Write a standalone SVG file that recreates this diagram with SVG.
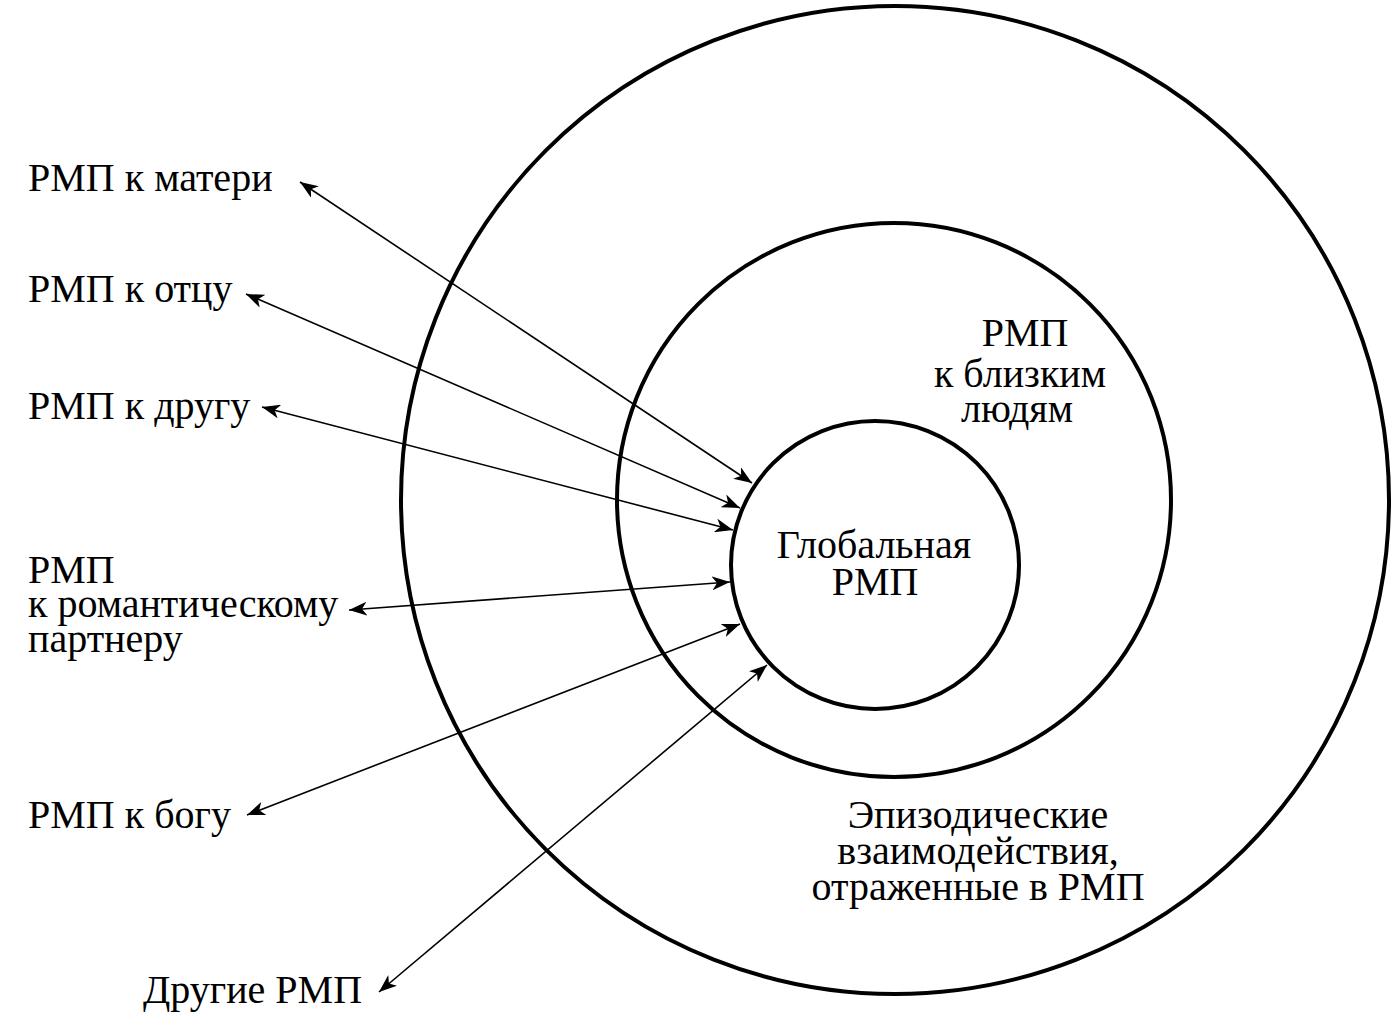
<svg xmlns="http://www.w3.org/2000/svg" width="1399" height="1014" viewBox="0 0 1399 1014">
<style>
.c{fill:none;stroke:#000;stroke-width:4}
.a{fill:none;stroke:#000;stroke-width:1.6;marker-start:url(#ah);marker-end:url(#ah)}
text{font-family:"Liberation Serif","Times New Roman",serif;font-size:40px;fill:#000}
.m{text-anchor:middle}
</style>
<defs>
<marker id="ah" markerUnits="userSpaceOnUse" markerWidth="20" markerHeight="14" refX="18" refY="7" orient="auto-start-reverse" viewBox="0 0 20 14">
<path d="M18,7 L0,0 L5,7 L0,14 z" fill="#000"/>
</marker>
</defs>
<rect width="1399" height="1014" fill="#fff"/>
<g id="outer"><circle class="c" cx="895" cy="500" r="494"/>
<text class="m" x="978" y="828">Эпизодические</text>
<text class="m" x="978" y="864">взаимодействия,</text>
<text class="m" x="978" y="900">отраженные в РМП</text></g>
<g id="middle"><circle class="c" cx="894" cy="500" r="277"/>
<text class="m" x="1025" y="346">РМП</text>
<text class="m" x="1020" y="387">к близким</text>
<text class="m" x="1017" y="422">людям</text></g>
<g id="inner"><circle class="c" cx="875" cy="565" r="144"/>
<text class="m" x="874" y="558">Глобальная</text>
<text class="m" x="875" y="595">РМП</text></g>
<g id="labels">
<text x="28" y="191">РМП к матери</text>
<text x="28" y="302">РМП к отцу</text>
<text x="28" y="419">РМП к другу</text>
<text x="28" y="583">РМП</text>
<text x="28" y="617">к романтическому</text>
<text x="28" y="652">партнеру</text>
<text x="28" y="828">РМП к богу</text>
<text x="143" y="1003">Другие РМП</text>
</g>
<g id="connectors">
<line class="a" x1="300" y1="182" x2="752" y2="483"/>
<line class="a" x1="246" y1="294" x2="740" y2="508"/>
<line class="a" x1="262" y1="407" x2="733" y2="530"/>
<line class="a" x1="349" y1="610" x2="730" y2="582"/>
<line class="a" x1="247" y1="815" x2="740" y2="624"/>
<line class="a" x1="379" y1="992" x2="767" y2="665"/>
</g>
</svg>
